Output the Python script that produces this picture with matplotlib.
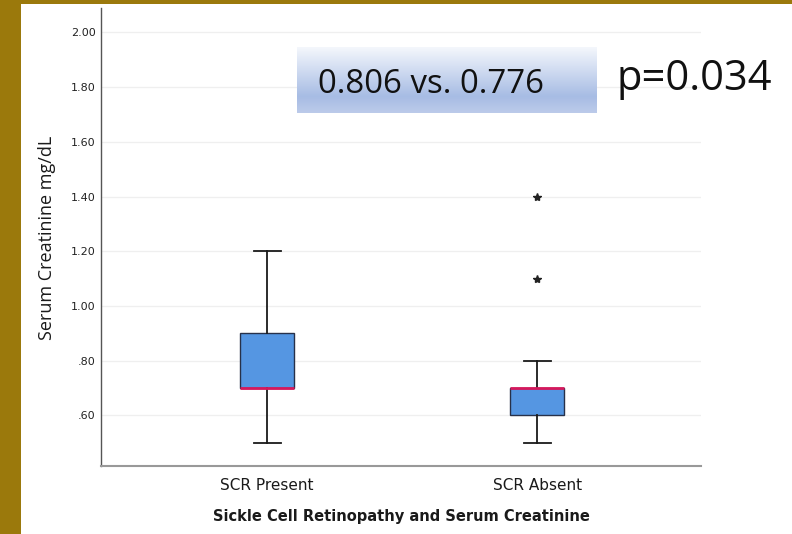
import matplotlib
matplotlib.use('Agg')
import matplotlib.pyplot as plt
import numpy as np
from matplotlib.patches import Rectangle

# ---- data ----
categories = ['SCR Present', 'SCR Absent']
whislo = [0.50, 0.50]
q1 = [0.70, 0.60]
med = [0.70, 0.70]
q3 = [0.90, 0.70]
whishi = [1.20, 0.80]
outliers = [[], [1.10, 1.40]]
yticks = [0.60, 0.80, 1.00, 1.20, 1.40, 1.60, 1.80, 2.00]
yticklabels = ['.60', '.80', '1.00', '1.20', '1.40', '1.60', '1.80', '2.00']
means_text = '0.806 vs. 0.776'
p_text = 'p=0.034'
xlabel = 'Sickle Cell Retinopathy and Serum Creatinine'
ylabel = 'Serum Creatinine mg/dL'

W, H = 792, 534
fig = plt.figure(figsize=(W / 100, H / 100), dpi=100)
fig.patch.set_facecolor('#9b790c')
fig.add_artist(Rectangle((21 / W, 0), 1 - 21 / W, 1 - 4 / H, transform=fig.transFigure,
                         facecolor='white', edgecolor='none', zorder=0))

ax = fig.add_axes([101 / W, (H - 466) / H, 600 / W, 458 / H])
ax.set_facecolor('white')

stats = []
for i, c in enumerate(categories):
    stats.append(dict(label=c, whislo=whislo[i], q1=q1[i], med=med[i], q3=q3[i],
                      whishi=whishi[i], fliers=outliers[i]))

ax.bxp(stats, positions=[1, 2], widths=0.2, capwidths=0.1, patch_artist=True,
       boxprops=dict(facecolor='#5596e2', edgecolor='#27314a', linewidth=1.0),
       medianprops=dict(color='#d6185c', linewidth=2.0, zorder=5),
       whiskerprops=dict(color='#1a1a1a', linewidth=1.3),
       capprops=dict(color='#1a1a1a', linewidth=1.3),
       flierprops=dict(marker='*', markersize=6, markerfacecolor='#222222',
                       markeredgecolor='#222222', linestyle='none'))

ax.set_xlim(0.385, 2.607)
ax.set_ylim(0.4154, 2.0895)
ax.set_yticks(yticks)
ax.set_yticklabels(yticklabels)
ax.yaxis.grid(True, color='#efefef', linewidth=0.9)
ax.set_axisbelow(True)
for s in ['top', 'right']:
    ax.spines[s].set_visible(False)
ax.spines['left'].set_color('#555555')
ax.spines['left'].set_linewidth(1.0)
ax.spines['bottom'].set_color('#999999')
ax.spines['bottom'].set_linewidth(1.5)
ax.tick_params(axis='y', length=0, pad=4, labelsize=8, labelcolor='#222222')
ax.tick_params(axis='x', length=0, pad=9, labelsize=11, labelcolor='#1a1a1a')

fig.text(401 / W, 1 - 516 / H, xlabel, ha='center', va='center', fontsize=10.5,
         fontweight='bold', color='#1a1a1a')
fig.text(47 / W, 1 - 238 / H, ylabel, ha='center', va='center', rotation=90,
         fontsize=13, family='Open Sans', color='#1a1a1a')

# gradient label box
gax = fig.add_axes([297 / W, (H - 113) / H, 300 / W, 66 / H])
grad_stops = [0.0, 0.75, 1.0]
grad_cols = [np.array([244, 247, 252]), np.array([167, 188, 228]), np.array([188, 203, 234])]
t = np.linspace(0, 1, 100)
rows = np.array([np.interp(t, grad_stops, [c[k] for c in grad_cols]) for k in range(3)]).T / 255
img = np.repeat(rows[:, None, :], 2, axis=1)
gax.imshow(img, aspect='auto', extent=[0, 1, 0, 1])
gax.axis('off')

fig.text(318 / W, 1 - 93 / H, means_text, ha='left', va='baseline', fontsize=23.8,
         family='Open Sans', color='#111111')
fig.text(617 / W, 1 - 90 / H, p_text, ha='left', va='baseline', fontsize=30,
         family='Open Sans', color='#111111')

fig.savefig('out.png', dpi=100, facecolor=fig.get_facecolor())
